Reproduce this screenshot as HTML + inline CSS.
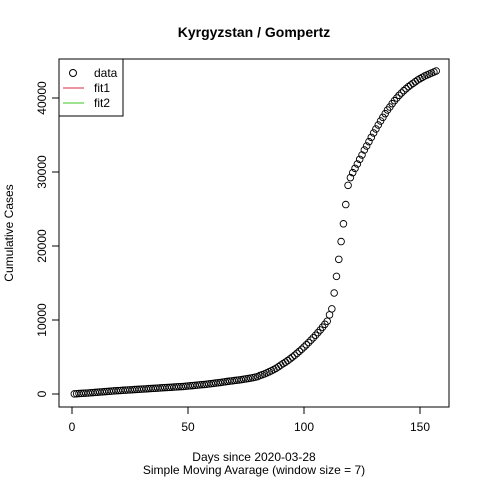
<!DOCTYPE html>
<html><head><meta charset="utf-8"><style>
body{margin:0;background:#fff}
svg{display:block;font-family:"Liberation Sans",Arial,sans-serif}
</style></head><body>
<svg id="chart" width="480" height="480" viewBox="0 0 480 480" xmlns="http://www.w3.org/2000/svg">
<rect width="480" height="480" fill="#fff"/>
<text x="254" y="37" text-anchor="middle" font-size="14" font-weight="bold">Kyrgyzstan / Gompertz</text>
<rect x="59" y="59" width="390" height="348" fill="none" stroke="#000"/>
<g id="axes"></g>
<g id="points"></g>
<text x="254" y="461" text-anchor="middle" font-size="12">Days since 2020-03-28</text>
<text x="254" y="474" text-anchor="middle" font-size="12">Simple Moving Avarage (window size = 7)</text>
<text transform="translate(13,233) rotate(-90)" text-anchor="middle" font-size="12">Cumulative Cases</text>
<g>
<rect x="59" y="59" width="64" height="57" fill="#fff" stroke="#000"/>
<circle cx="73" cy="73" r="3.5" fill="none" stroke="#000"/>
<text x="94" y="77" font-size="12">data</text>
<line x1="63" y1="88" x2="84" y2="88" stroke="#DF536B" stroke-width="1.3"/>
<text x="94" y="92" font-size="12">fit1</text>
<line x1="63" y1="103" x2="84" y2="103" stroke="#61D04F" stroke-width="1.3"/>
<text x="94" y="107" font-size="12">fit2</text>
</g>
</svg>
<script>
const xTicks=[0,50,100,150];
const yTicks=[0,10000,20000,30000,40000];
const cases=[20,40,60,80,100,120,140,165,190,215,240,265,290,315,340,365,390,415,440,460,
480,500,520,540,560,580,600,620,640,660,680,700,720,740,760,780,800,820,840,860,
880,900,920,940,960,980,1000,1020,1050,1080,1110,1140,1170,1200,1230,1260,1290,1320,1360,1400,
1440,1480,1520,1560,1600,1650,1700,1740,1780,1820,1860,1900,1940,1990,2040,2090,2150,2210,2280,2350,
2500,2600,2720,2850,3000,3150,3310,3480,3680,3900,4100,4300,4520,4750,4990,5240,5500,5770,6050,6350,
6650,6960,7280,7600,7940,8290,8650,9030,9420,9830,10700,11500,
13650,15900,18200,20600,23000,25600,28200,
29234,29910,30495,31081,31712,32297,32973,33514,34099,34685,35270,35811,36351,36892,37387,37883,38378,38784,39234,39640,
40000,40360,40676,40991,41261,41532,41757,41982,42207,42432,42613,42793,42973,43108,43243,43378,43514,43649];
const NS="http://www.w3.org/2000/svg";
function X(d){return 72+d*2.32;}
function Y(v){return 394-v*0.0074;}
const axes=document.getElementById('axes');
function mk(tag,attrs,parent){const e=document.createElementNS(NS,tag);for(const k in attrs)e.setAttribute(k,attrs[k]);parent.appendChild(e);return e;}
mk('line',{x1:X(xTicks[0]),y1:407,x2:X(xTicks[xTicks.length-1]),y2:407,stroke:'#000'},axes);
xTicks.forEach(t=>{
  const l=mk('line',{x1:X(t),y1:407,x2:X(t),y2:414,stroke:'#000'},axes);
  
  
  const tx=mk('text',{x:X(t),y:431,'text-anchor':'middle','font-size':12},axes);
  tx.textContent=t;
  
  
});
mk('line',{x1:59,y1:Y(yTicks[0]),x2:59,y2:Y(yTicks[yTicks.length-1]),stroke:'#000'},axes);
yTicks.forEach(t=>{
  const l=mk('line',{x1:52,y1:Y(t),x2:59,y2:Y(t),stroke:'#000'},axes);
  
  
  const tx=mk('text',{transform:`translate(46,${Y(t)}) rotate(-90)`,'text-anchor':'middle','font-size':12},axes);
  tx.textContent=t;
  
  
});
const pts=document.getElementById('points');
cases.forEach((v,i)=>{
  const c=mk('circle',{cx:X(i+1),cy:Y(v),r:3.3,fill:'none',stroke:'#000','stroke-width':0.9},pts);
  
  
});
</script>
</body></html>
